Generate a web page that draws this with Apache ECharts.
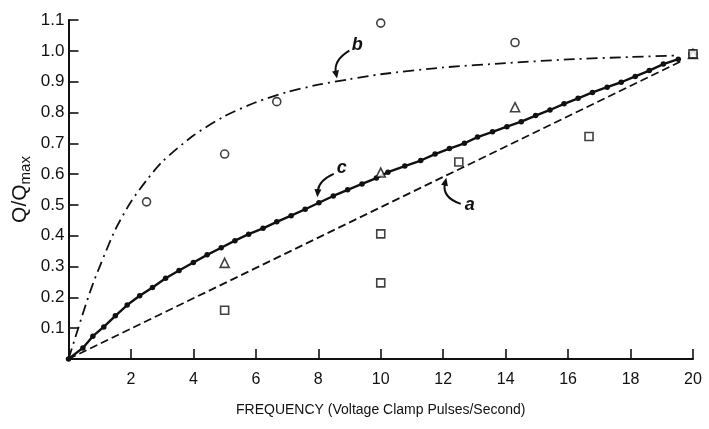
<!DOCTYPE html>
<html>
<head>
<meta charset="utf-8">
<script src="https://cdn.jsdelivr.net/npm/echarts@6/dist/echarts.min.js"></script>
<style>
  html, body { margin: 0; padding: 0; background: #fff; }
  #chart { width: 709px; height: 429px; }
</style>
</head>
<body>
<div id="chart"></div>
<script>
// Axis ranges and tick steps
const xMin = 0, xMax = 20, xStep = 2;
const yMin = 0, yMax = 1.1, yStep = 0.1;

// Curve a: linear reference
const curveAFreq = [0, 19.6];
const curveAQ    = [0, 0.965];

// Curve b: dash-dot saturating curve
const curveBFreq = [0, 0.25, 0.5, 0.75, 1, 1.5, 2, 2.5, 3, 4, 5, 6, 7, 8, 9, 10, 12, 14, 16, 18, 19.5];
const curveBQ    = [0, 0.08, 0.16, 0.235, 0.3, 0.42, 0.51, 0.58, 0.64, 0.725, 0.788, 0.833, 0.866, 0.89, 0.908, 0.924, 0.946, 0.96, 0.972, 0.98, 0.985];

// Curve c: solid line with dots
const curveCFreq = [0, 0.46, 0.78, 1.13, 1.5, 1.88, 2.28, 2.69, 3.11, 3.54, 4.0, 4.44, 4.89, 5.33, 5.77, 6.23, 6.67, 7.13, 7.58, 8.02, 8.48, 8.94, 9.4, 9.86, 10.23, 10.77, 11.28, 11.74, 12.2, 12.68, 13.1, 13.58, 14.04, 14.5, 14.96, 15.42, 15.87, 16.32, 16.78, 17.25, 17.7, 18.15, 18.6, 19.05, 19.53];
const curveCQ    = [0, 0.036, 0.074, 0.104, 0.14, 0.175, 0.205, 0.232, 0.262, 0.287, 0.313, 0.338, 0.361, 0.384, 0.405, 0.424, 0.445, 0.465, 0.486, 0.507, 0.529, 0.549, 0.568, 0.587, 0.606, 0.626, 0.644, 0.665, 0.683, 0.70, 0.72, 0.737, 0.754, 0.77, 0.79, 0.808, 0.828, 0.846, 0.865, 0.882, 0.898, 0.917, 0.936, 0.957, 0.973];

// Measured points
const circleFreq   = [2.5, 5, 6.67, 10, 14.3, 20];
const circleQ      = [0.51, 0.665, 0.835, 1.09, 1.027, 0.99];
const triangleFreq = [5, 10, 14.3, 20];
const triangleQ    = [0.312, 0.605, 0.817, 0.99];
const squareFreq   = [5, 10, 10, 12.5, 16.67, 20];
const squareQ      = [0.158, 0.406, 0.247, 0.639, 0.722, 0.99];

// Curve labels and the points their arrows point at
const curveLabels = ['a', 'b', 'c'];
const labelAnchor = { a: [12.85, 0.5], b: [9.25, 1.02], c: [8.75, 0.62] };
const labelTip    = { a: [12.1, 0.588], b: [8.6, 0.91], c: [7.97, 0.525] };

const pairs = (xs, ys) => xs.map((x, i) => [x, ys[i]]);

const FONT = '"Liberation Sans", "DejaVu Sans", sans-serif';
const INK = '#111';

const chart = echarts.init(document.getElementById('chart'), null, { renderer: 'canvas' });

const hollow = { color: '#fff', borderColor: INK, borderWidth: 1.6 };

chart.setOption({
  backgroundColor: '#fff',
  animation: false,
  grid: { left: 66, right: 16, top: 20, bottom: 70, containLabel: false },
  xAxis: {
    type: 'value', min: xMin, max: xMax, interval: xStep,
    name: 'FREQUENCY (Voltage Clamp Pulses/Second)',
    nameLocation: 'middle', nameGap: 44, nameMoveOverlap: false,
    nameTextStyle: { fontFamily: FONT, fontSize: 14, color: INK },
    axisLine: { lineStyle: { color: INK, width: 2 } },
    axisTick: { inside: true, length: 10, lineStyle: { color: INK, width: 1.6 } },
    axisLabel: { fontFamily: FONT, fontSize: 16, color: INK, margin: 13,
      formatter: v => (v === 0 ? '' : String(v)) },
    splitLine: { show: false }
  },
  yAxis: {
    type: 'value', min: yMin, max: yMax, interval: yStep,
    name: '{q|Q/Q}{s|max}',
    nameLocation: 'middle', nameGap: 36, nameRotate: 90, nameMoveOverlap: false,
    nameTextStyle: {
      fontFamily: FONT, color: INK,
      rich: {
        q: { fontFamily: FONT, fontSize: 21, color: INK, lineHeight: 24 },
        s: { fontFamily: FONT, fontSize: 15, color: INK, lineHeight: 24, padding: [10, 0, 0, 0] }
      }
    },
    axisLine: { lineStyle: { color: INK, width: 2 } },
    axisTick: { inside: true, length: 10, lineStyle: { color: INK, width: 1.6 } },
    axisLabel: { fontFamily: FONT, fontSize: 17, color: INK, margin: 4,
      formatter: v => (v === 0 ? '' : v.toFixed(1)) },
    splitLine: { show: false }
  },
  series: [
    {
      name: 'a', type: 'line', data: pairs(curveAFreq, curveAQ),
      showSymbol: false, lineStyle: { color: INK, width: 1.8, type: [8, 4] }, z: 2
    },
    {
      name: 'b', type: 'line', data: pairs(curveBFreq, curveBQ),
      smooth: 0.25,
      showSymbol: false, lineStyle: { color: INK, width: 1.8, type: [11, 5, 2, 5] }, z: 2
    },
    {
      name: 'c', type: 'line', data: pairs(curveCFreq, curveCQ),
      symbol: 'circle', symbolSize: 5.5, showAllSymbol: true,
      itemStyle: { color: INK }, lineStyle: { color: INK, width: 2.4 }, z: 3
    },
    {
      name: 'circles', type: 'scatter', data: pairs(circleFreq, circleQ),
      symbol: 'circle', symbolSize: 8, itemStyle: hollow, z: 4
    },
    {
      name: 'triangles', type: 'scatter', data: pairs(triangleFreq, triangleQ),
      symbol: 'triangle', symbolSize: 9, itemStyle: hollow, z: 4
    },
    {
      name: 'squares', type: 'scatter', data: pairs(squareFreq, squareQ),
      symbol: 'rect', symbolSize: 8, itemStyle: hollow, z: 4
    }
  ]
});

// Curve labels with curved pointer arrows, placed in data space
function arrow(from, tip, bend) {
  const mx = (from[0] + tip[0]) / 2, my = (from[1] + tip[1]) / 2;
  const dx = tip[0] - from[0], dy = tip[1] - from[1];
  const cp = [mx - dy * bend, my + dx * bend];
  const ax = tip[0] - cp[0], ay = tip[1] - cp[1];
  const len = Math.hypot(ax, ay) || 1;
  const ux = ax / len, uy = ay / len;
  const head = 8, half = 3.5;
  const bx = tip[0] - ux * head, by = tip[1] - uy * head;
  return [
    { type: 'bezierCurve', silent: true,
      shape: { x1: from[0], y1: from[1], x2: bx + ux * 2, y2: by + uy * 2, cpx1: cp[0], cpy1: cp[1] },
      style: { stroke: INK, lineWidth: 2, fill: null } },
    { type: 'polygon', silent: true,
      shape: { points: [tip, [bx - uy * half, by + ux * half], [bx + uy * half, by - ux * half]] },
      style: { fill: INK } }
  ];
}

const elements = [];
const bends = { a: -0.45, b: 0.35, c: 0.3 };
curveLabels.forEach(k => {
  const p = chart.convertToPixel({ gridIndex: 0 }, labelAnchor[k]);
  const t = chart.convertToPixel({ gridIndex: 0 }, labelTip[k]);
  elements.push({
    type: 'text', silent: true, x: p[0], y: p[1],
    style: { text: k, font: 'italic bold 18px ' + FONT, fill: INK, textAlign: 'center', textVerticalAlign: 'middle' }
  });
  const start = k === 'a' ? [p[0] - 9, p[1] - 1] : [p[0] - 8, p[1] + 6];
  elements.push(...arrow(start, t, bends[k]));
});
chart.setOption({ graphic: { elements } });
</script>
</body>
</html>
